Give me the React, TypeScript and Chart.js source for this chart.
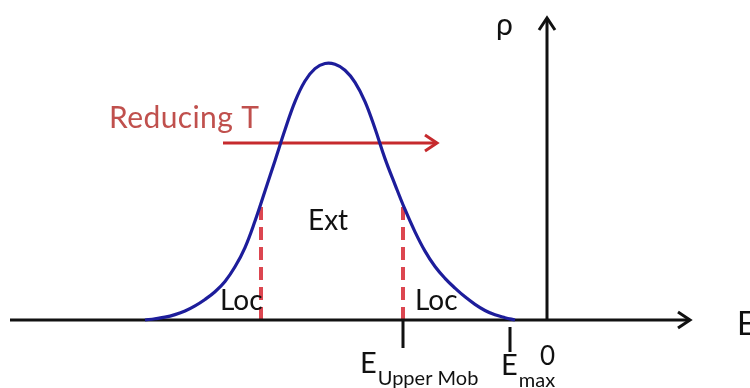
import React, { useEffect, useRef } from "react";
import { Chart, registerables } from "chart.js";

Chart.register(...registerables);

// ---- Data (energy E in arbitrary units, density of states rho normalised to the peak) ----
const CURVE_E = [
  -20.1, -19.6, -19.1, -18.6, -18.1, -17.6, -17.1, -16.6, -16.1, -15.6, -15.1, -14.6, -14.1,
  -13.6, -13.1, -12.6, -12.1, -11.6, -11.1, -10.6, -10.1, -9.6, -9.1, -8.6, -8.1, -7.6,
  -7.1, -6.6, -6.1, -5.6, -5.1, -4.6, -4.1, -3.6, -3.1, -2.6, -2.1, -1.6,
];
const CURVE_RHO = [
  0, 0.005, 0.011, 0.021, 0.035, 0.055, 0.08, 0.11, 0.15, 0.207, 0.282, 0.385, 0.502,
  0.62, 0.74, 0.85, 0.93, 0.978, 0.998, 0.995, 0.972, 0.925, 0.85, 0.745, 0.628, 0.527,
  0.43, 0.343, 0.268, 0.208, 0.162, 0.124, 0.09, 0.061, 0.037, 0.02, 0.009, 0,
];
const E_AXIS_RANGE = [-26.85, 7.15];
const RHO_AXIS_TOP = 1.175;
const MOBILITY_EDGES_E = [-14.3, -7.2];
const MOBILITY_EDGES_RHO = [0.46, 0.45];
const E_UPPER_MOB = -7.2;
const E_MAX = -1.85;
const E_UPPER_MOB_TICK = [0, -0.109];
const E_MAX_TICK = [-0.027, -0.125];
const ARROW_E = [-16.2, -5.5];
const ARROW_RHO = 0.689;
const X_LIMITS = [-27.35, 10.15];
const Y_LIMITS = [-0.2646, 1.2451];

// ---- Styles ----
const BLUE = "#1d1d9b";
const AXIS = "#111111";
const ARROW_RED = "#c62a2d";
const DASH_RED = "#dc4650";
const TEXT_RED = "#c0504d";
const FONT = "Lato, 'Open Sans', sans-serif";

type Label = { text: string; sub?: string; e: number; rho: number; size: number; subSize?: number; color: string; subDx?: number; subDy?: number; spacing?: number };
const LABELS: Label[] = [
  { text: "Reducing T", e: -21.9, rho: 0.747, size: 30, color: TEXT_RED, spacing: 0.4 },
  { text: "Ext", e: -11.95, rho: 0.35, size: 28, color: "#111" },
  { text: "Loc", e: -16.35, rho: 0.039, size: 28, color: "#111" },
  { text: "Loc", e: -6.6, rho: 0.039, size: 28, color: "#111" },
  { text: "ρ", e: -2.55, rho: 1.109, size: 30, color: "#111" },
  { text: "E", e: 9.5, rho: -0.058, size: 32, color: "#111" },
  { text: "0", e: -0.35, rho: -0.175, size: 26, color: "#111" },
  { text: "E", sub: "Upper Mob", e: -9.35, rho: -0.206, size: 29, subSize: 20, color: "#111", subDx: 1, subDy: 12 },
  { text: "E", sub: "max", e: -2.3, rho: -0.214, size: 29, subSize: 20, color: "#111", subDx: 1, subDy: 12 },
];

function chevron(ctx: CanvasRenderingContext2D, tx: number, ty: number, dx: number, dy: number, back: number, half: number, color: string, w: number) {
  const bx = tx - dx * back;
  const by = ty - dy * back;
  const nx = -dy;
  const ny = dx;
  ctx.save();
  ctx.strokeStyle = color;
  ctx.lineWidth = w;
  ctx.lineJoin = "miter";
  ctx.lineCap = "butt";
  ctx.beginPath();
  ctx.moveTo(bx + nx * half, by + ny * half);
  ctx.lineTo(tx, ty);
  ctx.lineTo(bx - nx * half, by - ny * half);
  ctx.stroke();
  ctx.restore();
}

const overlay = {
  id: "overlay",
  afterDatasetsDraw(chart: any) {
    const ctx: any = chart.ctx;
    const xs = chart.scales.x;
    const ys = chart.scales.y;
    const px = (v: number) => xs.getPixelForValue(v);
    const py = (v: number) => ys.getPixelForValue(v);
    chevron(ctx, px(E_AXIS_RANGE[1]), py(0), 1, 0, 12, 8, AXIS, 3);
    chevron(ctx, px(0), py(RHO_AXIS_TOP), 0, -1, 12, 8, AXIS, 3);
    chevron(ctx, px(ARROW_E[1]), py(ARROW_RHO), 1, 0, 12, 8, ARROW_RED, 3);
    ctx.save();
    ctx.textAlign = "left";
    ctx.textBaseline = "alphabetic";
    for (const l of LABELS) {
      const x = px(l.e);
      const y = py(l.rho);
      ctx.fillStyle = l.color;
      ctx.font = `${l.size}px ${FONT}`;
      ctx.letterSpacing = `${l.spacing || 0}px`;
      ctx.fillText(l.text, x, y);
      if (l.sub) {
        const w = ctx.measureText(l.text).width;
        ctx.font = `${l.subSize}px ${FONT}`;
        ctx.fillText(l.sub, x + w + (l.subDx || 0), y + (l.subDy || 0));
      }
    }
    ctx.letterSpacing = "0px";
    ctx.restore();
  },
};

function seg(xA: number, yA: number, xB: number, yB: number) {
  return [{ x: xA, y: yA }, { x: xB, y: yB }];
}

export default function App() {
  const ref = useRef<HTMLCanvasElement | null>(null);
  useEffect(() => {
    if (!ref.current) return;
    const common = { pointRadius: 0, fill: false, tension: 0 };
    const chart = new Chart(ref.current, {
      type: "line",
      data: {
        datasets: [
          {
            ...common,
            label: "rho(E)",
            data: CURVE_E.map((e, i) => ({ x: e, y: CURVE_RHO[i] })),
            borderColor: BLUE,
            borderWidth: 3.2,
            tension: 0.4,
            order: 0,
          },
          { ...common, label: "E axis", data: seg(E_AXIS_RANGE[0], 0, E_AXIS_RANGE[1], 0), borderColor: AXIS, borderWidth: 3, order: 1 },
          { ...common, label: "rho axis", data: seg(0, 0, 0, RHO_AXIS_TOP), borderColor: AXIS, borderWidth: 3, order: 1 },
          { ...common, label: "E upper mob tick", data: seg(E_UPPER_MOB, E_UPPER_MOB_TICK[0], E_UPPER_MOB, E_UPPER_MOB_TICK[1]), borderColor: AXIS, borderWidth: 3, order: 1 },
          { ...common, label: "E max tick", data: seg(E_MAX, E_MAX_TICK[0], E_MAX, E_MAX_TICK[1]), borderColor: AXIS, borderWidth: 3, order: 1 },
          ...MOBILITY_EDGES_E.map((e, i) => ({
            ...common,
            label: "mobility edge " + i,
            data: seg(e, 0, e, MOBILITY_EDGES_RHO[i]),
            borderColor: DASH_RED,
            borderWidth: 4,
            borderDash: [13, 7],
            order: 2,
          })),
          { ...common, label: "Reducing T", data: seg(ARROW_E[0], ARROW_RHO, ARROW_E[1], ARROW_RHO), borderColor: ARROW_RED, borderWidth: 3, order: 2 },
        ],
      },
      options: {
        responsive: false,
        animation: false,
        events: [],
        layout: { padding: 0 },
        plugins: { legend: { display: false }, tooltip: { enabled: false }, title: { display: false } },
        scales: {
          x: { type: "linear", min: X_LIMITS[0], max: X_LIMITS[1], display: false },
          y: { type: "linear", min: Y_LIMITS[0], max: Y_LIMITS[1], display: false },
        },
      },
      plugins: [overlay],
    } as any);
    return () => chart.destroy();
  }, []);
  return (
    <div style={{ position: "fixed", left: 0, top: 0, width: 750, height: 388, background: "#fff", overflow: "hidden" }}>
      <canvas ref={ref} width={750} height={388} style={{ display: "block" }} />
    </div>
  );
}
